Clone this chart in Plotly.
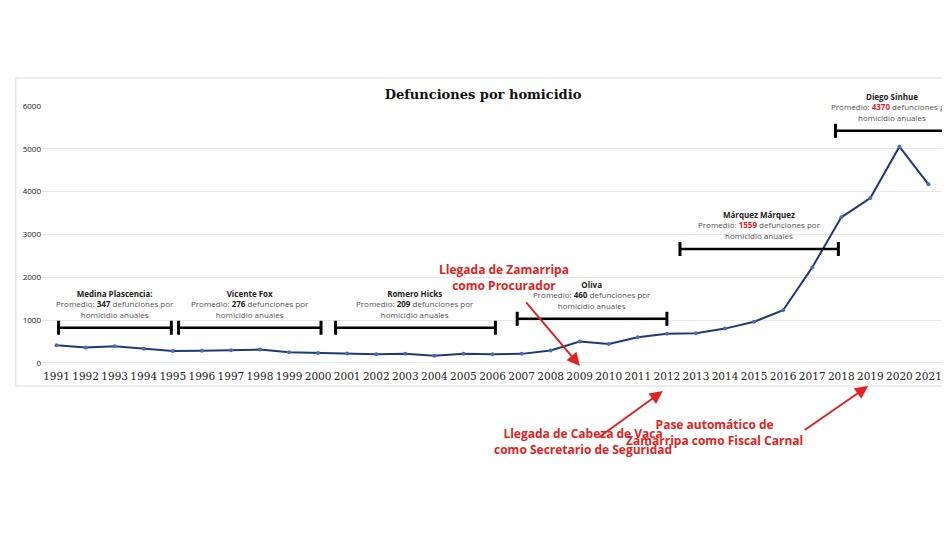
import plotly.graph_objects as go

years = list(range(1991, 2022))
deaths = [410, 360, 390, 330, 280, 285, 295, 310, 250, 230, 220, 200, 215, 165, 210,
          200, 210, 290, 500, 440, 600, 680, 690, 800, 960, 1230, 2230, 3400, 3850, 5050, 4170]

govs = ["Medina Plascencia:", "Vicente Fox", "Romero Hicks", "Oliva", "Márquez Márquez", "Diego Sinhue"]
avgs = [347, 276, 209, 460, 1559, 4370]
avg_red = [False, False, False, False, True, True]
spans = [(1991.07, 1994.95), (1995.2, 2000.1), (2000.6, 2006.1), (2006.85, 2012.0), (2012.45, 2017.9), (2017.8, 2021.75)]
span_y = [820, 820, 820, 1030, 2660, 5420]

fig = go.Figure()
fig.add_trace(go.Scatter(x=years, y=deaths, mode="lines+markers",
                         line=dict(color="#1f3a7a", width=2), marker=dict(size=4, color="#4a6fb5")))

for (x0, x1), yv, name, avg, red in zip(spans, span_y, govs, avgs, avg_red):
    fig.add_trace(go.Scatter(x=[x0, x1], y=[yv, yv], mode="lines+markers", cliponaxis=False,
                             line=dict(color="black", width=2.5),
                             marker=dict(symbol="line-ns", size=10, line=dict(width=3, color="black"))))
    col = "#e02020" if red else "#222"
    fig.add_annotation(x=(x0 + x1) / 2, y=yv + 140, yanchor="bottom", showarrow=False,
                       text=f"<b>{name}</b><br><span style='color:#555'>Promedio: </span><b style='color:{col}'>{avg}</b>"
                            f"<span style='color:#555'> defunciones por<br>homicidio anuales</span>",
                       font=dict(size=8, color="#222", family="Open Sans"), align="center")

red = "#e52222"
# text position and arrow head in paper coordinates, arrow tail offset in pixels
notes = [
    ("Llegada de Zamarripa<br>como Procurador", 0.513, 0.344, 0.597, 0.008, -55, -65),
    ("Llegada de Cabeza de Vaca<br>como Secretario de Seguridad", 0.600, -0.351, 0.689, -0.088, -65, 47),
    ("Pase automático de<br>Zamarripa como Fiscal Carnal", 0.847, -0.317, 0.917, -0.069, -65, 45),
]
for txt, tx, ty, hx, hy, ax, ay in notes:
    fig.add_annotation(x=tx, y=ty, xref="paper", yref="paper", text=f"<b>{txt}</b>", showarrow=False,
                       font=dict(size=12, color=red, family="Open Sans"))
    fig.add_annotation(x=hx, y=hy, xref="paper", yref="paper", ax=ax, ay=ay, text="", showarrow=True,
                       arrowhead=2, arrowsize=1.3, arrowwidth=2, arrowcolor=red)

fig.add_shape(type="rect", xref="paper", yref="paper", x0=-0.029, x1=1.011, y0=-0.069, y1=1.107,
              line=dict(color="#dddddd", width=1))

fig.update_layout(
    width=950, height=534, showlegend=False,
    paper_bgcolor="white", plot_bgcolor="white",
    margin=dict(l=34, r=15, t=98, b=174),
    title=dict(text="<b>Defunciones por homicidio</b>", x=0.5, xanchor="center", y=0.846,
               font=dict(family="DejaVu Serif", size=13, color="#111")),
    xaxis=dict(range=[1990.5, 2021.5], tickvals=years, showgrid=False, zeroline=False, automargin=False,
               tickfont=dict(family="DejaVu Serif", size=10.5, color="#222"), ticks=""),
    yaxis=dict(range=[-120, 6000], tickvals=[0, 1000, 2000, 3000, 4000, 5000, 6000],
               gridcolor="#e8e8e8", zeroline=False, automargin=False,
               tickfont=dict(family="Open Sans", size=8, color="#222")),
)

fig.write_html("out.html")
